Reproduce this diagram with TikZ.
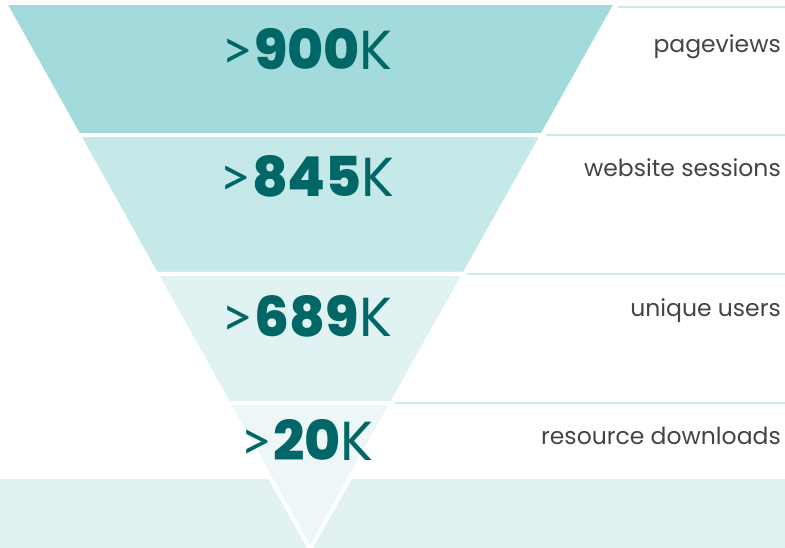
\documentclass[tikz,border=0pt]{standalone}
\usepackage{fontspec}
\setmainfont{Poppins}
\newfontfamily\signfont{Lato}
\IfFontExistsTF{Poppins ExtraBold}
  {\newfontfamily\heavyfont{Poppins ExtraBold}}
  {\newfontfamily\heavyfont{Poppins}[UprightFont=*-Bold]}
\usetikzlibrary{calc}
\definecolor{bandA}{HTML}{A3DBDC}
\definecolor{bandB}{HTML}{C5E8E9}
\definecolor{bandC}{HTML}{E1F2F2}
\definecolor{bandD}{HTML}{EEF7F8}
\definecolor{baseband}{HTML}{E2F2F1}
\definecolor{numteal}{HTML}{006666}
\definecolor{labelgray}{HTML}{444444}
\definecolor{ruleteal}{HTML}{CDEBEC}
\tikzset{
  band/.style={fill=#1,draw=white,line width=4pt,line join=miter},
  count/.style={text=numteal,font=\fontsize{55}{55}\selectfont,inner sep=0pt,anchor=base},
  metric/.style={text=labelgray,font=\fontsize{23.5}{23.5}\selectfont,inner sep=0pt,anchor=base east},
  rowrule/.style={draw=ruleteal,line width=2pt},
}
\newcommand{\cnt}[1]{{\signfont >}\hspace{1pt}{\heavyfont #1}K}

\begin{document}
\begin{tikzpicture}[x=1pt,y=-1pt]
  \useasboundingbox (0,0) rectangle (785,548);
  \fill[baseband] (0,479) rectangle (785,548);
  % funnel corners
  \coordinate (tl) at (4.6,3);
  \coordinate (tr) at (616.4,3);
  \coordinate (ap) at (310,549);
  % cut points between the bands
  \foreach \k/\f in {1/0.2418,2/0.4963,3/0.7326}{
    \coordinate (l\k) at ($(tl)!\f!(ap)$);
    \coordinate (r\k) at ($(tr)!\f!(ap)$);
  }
  \draw[band=bandA] (tl) -- (tr) -- (r1) -- (l1) -- cycle;
  \draw[band=bandB] (l1) -- (r1) -- (r2) -- (l2) -- cycle;
  \draw[band=bandC] (l2) -- (r2) -- (r3) -- (l3) -- cycle;
  \draw[band=bandD] (l3) -- (r3) -- (ap) -- cycle;
  % rules on the right
  \coordinate (e0) at (785,7);
  \coordinate (e1) at (785,135);
  \coordinate (e2) at (785,274);
  \coordinate (e3) at (785,403);
  \draw[rowrule] (618,7) -- (e0);
  \draw[rowrule] (546,135) -- (e1);
  \draw[rowrule] (467,274) -- (e2);
  \draw[rowrule] (395,403) -- (e3);
  % counts
  \node[count] (c900) at (307,70) {\cnt{900}};
  \node[count] (c845) at (307,197) {\cnt{845}};
  \node[count] (c689) at (307,336) {\cnt{689}};
  \node[count] (c20) at (307,460) {\cnt{20}};
  % metrics
  \node[metric] (pageviews) at (781,52.3) {pageviews};
  \node[metric] (sessions) at (781,177) {website sessions};
  \node[metric] (users) at (781,316.7) {unique users};
  \node[metric] (downloads) at (781,444) {resource downloads};
\end{tikzpicture}
\end{document}
